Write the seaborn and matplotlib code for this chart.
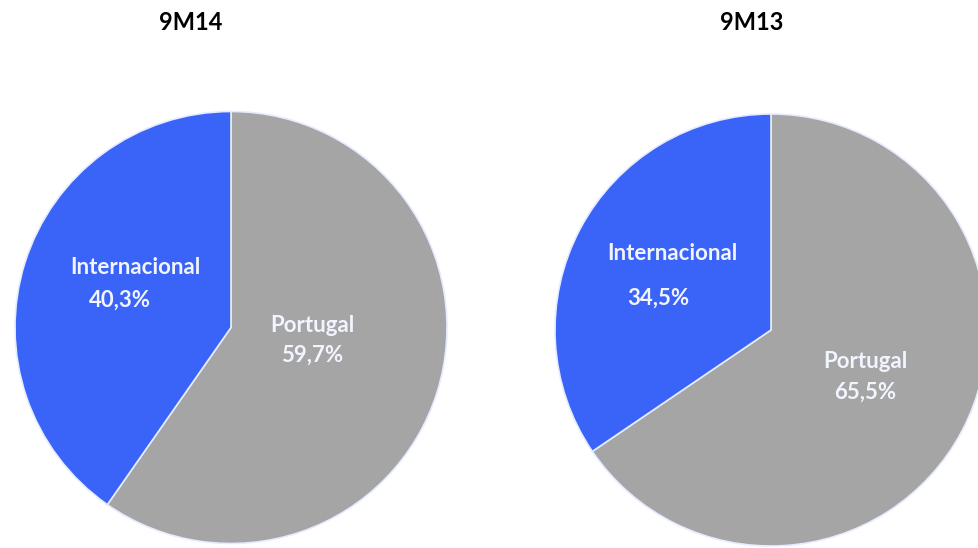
import matplotlib
matplotlib.use("Agg")
import matplotlib.pyplot as plt
import seaborn as sns

sns.set_theme(style="white")
plt.rcParams["font.family"] = ["Lato", "DejaVu Sans"]

# Revenue split by market
periods = ["9M14", "9M13"]
categories = ["Portugal", "Internacional"]
shares_9m14 = [59.7, 40.3]
shares_9m13 = [65.5, 34.5]
colors = ["#a5a5a5", "#3a64f8"]

W, H = 979, 548
fig = plt.figure(figsize=(W / 100, H / 100), dpi=100)
ax = fig.add_axes([0, 0, 1, 1])
ax.set_xlim(0, W)
ax.set_ylim(0, H)
ax.set_aspect("equal")
ax.axis("off")

layouts = [
    # centre (px, from top), radius, title x, label positions
    dict(center=(231, 327.5), radius=216, title_x=191,
         lab_int=(135, 267), val_int=(120, 300),
         lab_pt=(312, 325), val_pt=(312, 355)),
    dict(center=(771, 330), radius=216, title_x=752,
         lab_int=(672, 253), val_int=(658, 298),
         lab_pt=(865, 362), val_pt=(865, 392)),
]

for period, shares, lay in zip(periods, [shares_9m14, shares_9m13], layouts):
    cx, cy = lay["center"]
    ax.pie(shares, colors=colors, startangle=90, counterclock=False,
           center=(cx, H - cy), radius=lay["radius"],
           wedgeprops=dict(edgecolor="#e6ecff", linewidth=1.2),
           frame=True)
    ax.text(lay["title_x"], H - 22, period, ha="center", va="center",
            fontsize=17, fontweight="bold", color="black")
    txt = dict(ha="center", va="center", fontsize=16, fontweight="bold",
               color="#f2f5ff")
    ax.text(lay["lab_int"][0], H - lay["lab_int"][1], categories[1], **txt)
    ax.text(lay["val_int"][0], H - lay["val_int"][1],
            f"{shares[1]:.1f}%".replace(".", ","), **txt)
    ax.text(lay["lab_pt"][0], H - lay["lab_pt"][1], categories[0], **txt)
    ax.text(lay["val_pt"][0], H - lay["val_pt"][1],
            f"{shares[0]:.1f}%".replace(".", ","), **txt)

ax.set_xlim(0, W)
ax.set_ylim(0, H)
ax.axis("off")
fig.savefig("out.png", dpi=100)
